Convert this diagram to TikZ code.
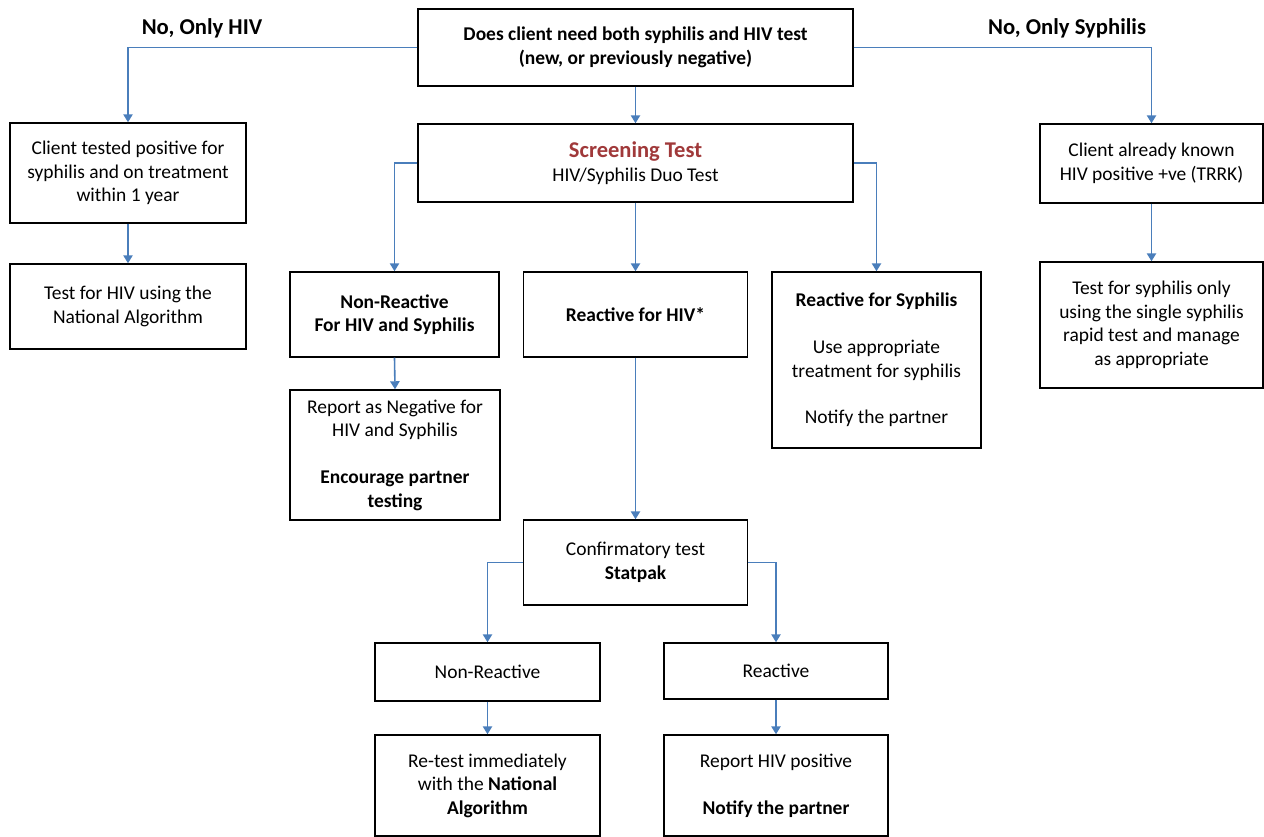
\documentclass[tikz,border=0pt]{standalone}
\usepackage{fontspec}
\setmainfont{Carlito}
\usepackage{tikz}
\usetikzlibrary{arrows.meta}
\definecolor{lineblue}{RGB}{74,126,187}
\definecolor{screenred}{RGB}{160,57,58}
\tikzstyle{box} = [draw, line width=1.1pt, rectangle, align=center, inner sep=2pt, font=\fontsize{14.6}{17.6}\selectfont]
\tikzstyle{arrow} = [line width=1.2pt, lineblue, -{Triangle[width=7pt,length=6pt]}]
\tikzstyle{choice} = [font=\fontsize{17}{20}\selectfont\bfseries]

\begin{document}
\begin{tikzpicture}[x=0.75pt, y=-0.75pt]
	\useasboundingbox (0,0) rectangle (1264,837);
	% question and screening
	\node[box, minimum width=326.25pt, minimum height=57.75pt] (ask) at (635.5,47.5) {\textbf{Does client need both syphilis and HIV test}\\ \textbf{(new, or previously negative)}};
	\node[box, minimum width=326.25pt, minimum height=58.5pt] (screen) at (635.5,163) {{\fontsize{16.9}{17.6}\selectfont\bfseries\color{screenred}Screening Test}\\ HIV/Syphilis Duo Test};
	\node[choice] (onlyhiv) at (202,28) {No, Only HIV};
	\node[choice] (onlysyph) at (1067,28) {No, Only Syphilis};
	% left branch
	\node[box, minimum width=177pt, minimum height=75pt] (treated) at (128,173) {Client tested positive for\\ syphilis and on treatment\\ within 1 year};
	\node[box, minimum width=177pt, minimum height=63.75pt] (natalg) at (128,306.5) {Test for HIV using the\\ National Algorithm};
	% right branch
	\node[box, minimum width=167.25pt, minimum height=59.25pt] (known) at (1151.5,163.5) {Client already known\\ HIV positive +ve (TRRK)};
	\node[box, minimum width=167.25pt, minimum height=94.5pt] (syphonly) at (1151.5,325) {Test for syphilis only\\ using the single syphilis\\ rapid test and manage\\ as appropriate};
	% screening results
	\node[box, minimum width=156.75pt, minimum height=63.75pt] (nonreact) at (394.5,314.5) {\textbf{Non-Reactive}\\ \textbf{For HIV and Syphilis}};
	\node[box, minimum width=168pt, minimum height=63.75pt] (reacthiv) at (635.5,314.5) {\textbf{Reactive for HIV*}};
	\node[box, minimum width=156.75pt, minimum height=132pt] (reactsyph) at (876.5,360) {\textbf{Reactive for Syphilis}\\[17.6pt] Use appropriate\\ treatment for syphilis\\[17.6pt] Notify the partner};
	\node[box, minimum width=157.5pt, minimum height=97.5pt] (reportneg) at (395,455) {Report as Negative for\\ HIV and Syphilis\\[17.6pt] \textbf{Encourage partner}\\ \textbf{testing}};
	% confirmation
	\node[box, minimum width=168pt, minimum height=63.75pt] (confirm) at (635.5,562.5) {Confirmatory test\\ \textbf{Statpak}};
	\node[box, minimum width=168.75pt, minimum height=43.5pt] (confneg) at (487.5,672) {Non-Reactive};
	\node[box, minimum width=168pt, minimum height=42pt] (confpos) at (776,671) {Reactive};
	\node[box, minimum width=168.75pt, minimum height=75.75pt] (retest) at (487.5,785.5) {Re-test immediately\\ with the \textbf{National}\\ \textbf{Algorithm}};
	\node[box, minimum width=168pt, minimum height=75.75pt] (reportpos) at (776,785.5) {Report HIV positive\\[17.6pt] \textbf{Notify the partner}};
	% arrows
	\draw[arrow] (ask.west) -| (treated.north);
	\draw[arrow] (ask.east) -| (known.north);
	\draw[arrow] (ask.south) -- (screen.north);
	\draw[arrow] (treated.south) -- (natalg.north);
	\draw[arrow] (known.south) -- (syphonly.north);
	\draw[arrow] (screen.west) -| (nonreact.north);
	\draw[arrow] (screen.south) -- (reacthiv.north);
	\draw[arrow] (screen.east) -| (reactsyph.north);
	\draw[arrow] (nonreact.south) -- (reportneg.north);
	\draw[arrow] (reacthiv.south) -- (confirm.north);
	\draw[arrow] (confirm.west) -| (confneg.north);
	\draw[arrow] (confirm.east) -| (confpos.north);
	\draw[arrow] (confneg.south) -- (retest.north);
	\draw[arrow] (confpos.south) -- (reportpos.north);
\end{tikzpicture}
\end{document}
